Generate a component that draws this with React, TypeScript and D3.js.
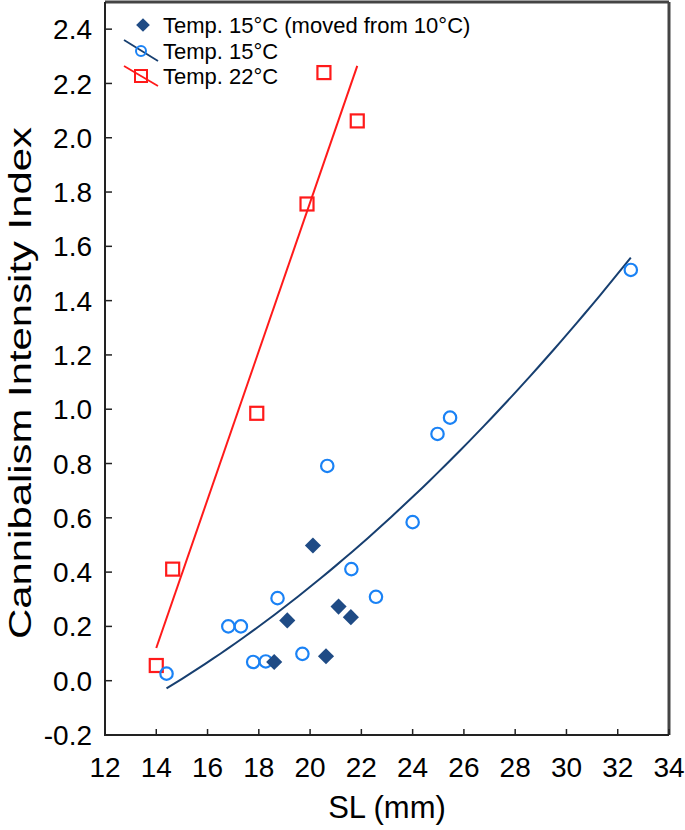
import React from 'react';
import * as d3 from 'd3';

// Temp. 15°C (moved from 10°C)
const movedX = [18.6, 19.11, 20.11, 20.62, 21.11, 21.59];
const movedY = [0.069, 0.222, 0.498, 0.09, 0.273, 0.234];

// Temp. 15°C
const t15X = [14.4, 16.81, 17.3, 17.78, 18.27, 18.73, 19.7, 20.67, 21.61, 22.57, 24.0, 24.97, 25.46, 32.51];
const t15Y = [0.026, 0.2, 0.2, 0.069, 0.071, 0.304, 0.099, 0.791, 0.411, 0.309, 0.584, 0.909, 0.969, 1.513];

// Temp. 22°C
const t22X = [14.0, 14.64, 17.92, 19.88, 20.54, 21.84];
const t22Y = [0.056, 0.411, 0.985, 1.756, 2.24, 2.062];

const xTicks = [12, 14, 16, 18, 20, 22, 24, 26, 28, 30, 32, 34];
const yTicks = [-0.2, 0.0, 0.2, 0.4, 0.6, 0.8, 1.0, 1.2, 1.4, 1.6, 1.8, 2.0, 2.2, 2.4];

const legendLabels = ['Temp. 15°C (moved from 10°C)', 'Temp. 15°C', 'Temp. 22°C'];

const RED = '#ff1a1a';
const BLUE = '#1a82f5';
const NAVY = '#1f4b85';
const NAVY_LINE = '#173f70';
const FONT = '"Liberation Sans", Arial, sans-serif';

// least squares polynomial fit (degree 1 or 2)
function polyFit(xs: number[], ys: number[], degree: number): number[] {
  const m = degree + 1;
  const A: number[][] = Array.from({ length: m }, () => new Array(m + 1).fill(0));
  xs.forEach((x, k) => {
    for (let i = 0; i < m; i++) {
      for (let j = 0; j < m; j++) A[i][j] += Math.pow(x, i + j);
      A[i][m] += Math.pow(x, i) * ys[k];
    }
  });
  // gaussian elimination
  for (let i = 0; i < m; i++) {
    let p = i;
    for (let r = i + 1; r < m; r++) if (Math.abs(A[r][i]) > Math.abs(A[p][i])) p = r;
    [A[i], A[p]] = [A[p], A[i]];
    for (let r = i + 1; r < m; r++) {
      const f = A[r][i] / A[i][i];
      for (let c = i; c <= m; c++) A[r][c] -= f * A[i][c];
    }
  }
  const coef = new Array(m).fill(0);
  for (let i = m - 1; i >= 0; i--) {
    let s = A[i][m];
    for (let j = i + 1; j < m; j++) s -= A[i][j] * coef[j];
    coef[i] = s / A[i][i];
  }
  return coef;
}

const evalPoly = (coef: number[], x: number) => coef.reduce((s, c, i) => s + c * Math.pow(x, i), 0);

export default function App() {
  const width = 685;
  const height = 830;
  const plot = { left: 105, right: 669, top: 2, bottom: 735 };

  const x = d3.scaleLinear().domain([12, 34]).range([plot.left, plot.right]);
  const y = d3.scaleLinear().domain([-0.2, 2.5]).range([plot.bottom, plot.top]);

  const line = d3
    .line<[number, number]>()
    .x((d) => x(d[0]))
    .y((d) => y(d[1]));

  const quad = polyFit(t15X, t15Y, 2);
  const [q0, q1] = d3.extent(t15X) as [number, number];
  const curvePts: [number, number][] = d3.range(0, 61).map((i) => {
    const xv = q0 + ((q1 - q0) * i) / 60;
    return [xv, evalPoly(quad, xv)];
  });

  const lin = polyFit(t22X, t22Y, 1);
  const [l0, l1] = d3.extent(t22X) as [number, number];
  const linePts: [number, number][] = [
    [l0, evalPoly(lin, l0)],
    [l1, evalPoly(lin, l1)],
  ];

  const diamond = d3.symbol().type(d3.symbolSquare).size(130)();

  return (
    <svg width={width} height={height} style={{ display: 'block', position: 'absolute', left: 0, top: 0 }}>
      <rect width={width} height={height} fill="#fff" />

      {/* frame */}
      <line x1={plot.left} x2={plot.right} y1={plot.top} y2={plot.top} stroke="#444" strokeWidth={3} />
      <line x1={plot.right} x2={plot.right} y1={plot.top} y2={plot.bottom} stroke="#444" strokeWidth={3} />
      <line x1={plot.left} x2={plot.left} y1={plot.top} y2={plot.bottom + 1} stroke="#222" strokeWidth={2} />
      <line x1={plot.left - 1} x2={plot.right} y1={plot.bottom} y2={plot.bottom} stroke="#222" strokeWidth={2} />

      {/* ticks */}
      {yTicks.map((t) => (
        <g key={'y' + t}>
          <line x1={plot.left} x2={plot.left + 7} y1={y(t)} y2={y(t)} stroke="#222" strokeWidth={1.5} />
          <text
            x={plot.left - 13}
            y={y(t)}
            dy="0.36em"
            textAnchor="end"
            fontFamily={FONT}
            fontSize={28}
            fill="#000"
          >
            {d3.format('.1f')(t).replace('−', '-')}
          </text>
        </g>
      ))}
      {xTicks.map((t) => (
        <g key={'x' + t}>
          <line x1={x(t)} x2={x(t)} y1={plot.bottom} y2={plot.bottom - 6} stroke="#222" strokeWidth={1.5} />
          <text x={x(t)} y={plot.bottom + 42} textAnchor="middle" fontFamily={FONT} fontSize={28} fill="#000">
            {t}
          </text>
        </g>
      ))}

      {/* axis titles */}
      <text x={(plot.left + plot.right) / 2} y={818} textAnchor="middle" fontFamily={FONT} fontSize={31} fill="#000">
        SL (mm)
      </text>
      <text
        transform={`translate(31, 383) rotate(-90)`}
        textAnchor="middle"
        fontFamily={FONT}
        fontSize={32}
        textLength={512}
        lengthAdjust="spacingAndGlyphs"
        fill="#000"
      >
        Cannibalism Intensity Index
      </text>

      {/* fits */}
      <path d={line(linePts) ?? ''} fill="none" stroke={RED} strokeWidth={2} />
      <path d={line(curvePts) ?? ''} fill="none" stroke={NAVY_LINE} strokeWidth={2} />

      {/* points */}
      {t22X.map((xv, i) => (
        <rect
          key={'s' + i}
          x={x(xv) - 6.5}
          y={y(t22Y[i]) - 6.5}
          width={13}
          height={13}
          fill="none"
          stroke={RED}
          strokeWidth={2.2}
        />
      ))}
      {t15X.map((xv, i) => (
        <circle key={'c' + i} cx={x(xv)} cy={y(t15Y[i])} r={6.2} fill="none" stroke={BLUE} strokeWidth={2.2} />
      ))}
      {movedX.map((xv, i) => (
        <path
          key={'d' + i}
          d={diamond ?? ''}
          transform={`translate(${x(xv)},${y(movedY[i])}) rotate(45)`}
          fill={NAVY}
        />
      ))}

      {/* legend */}
      <g fontFamily={FONT} fontSize={22} fill="#000">
        <path d={diamond ?? ''} transform="translate(143,25) rotate(45) scale(0.85)" fill={NAVY} />
        <text x={163} y={33}>{legendLabels[0]}</text>

        <line x1={124} y1={40} x2={158} y2={61} stroke={NAVY_LINE} strokeWidth={1.8} />
        <circle cx={141} cy={51} r={5} fill="none" stroke={BLUE} strokeWidth={2} />
        <text x={163} y={59}>{legendLabels[1]}</text>

        <line x1={124} y1={66} x2={158} y2={86} stroke={RED} strokeWidth={1.8} />
        <rect x={135} y={70} width={12} height={12} fill="none" stroke={RED} strokeWidth={2} />
        <text x={163} y={84}>{legendLabels[2]}</text>
      </g>
    </svg>
  );
}
